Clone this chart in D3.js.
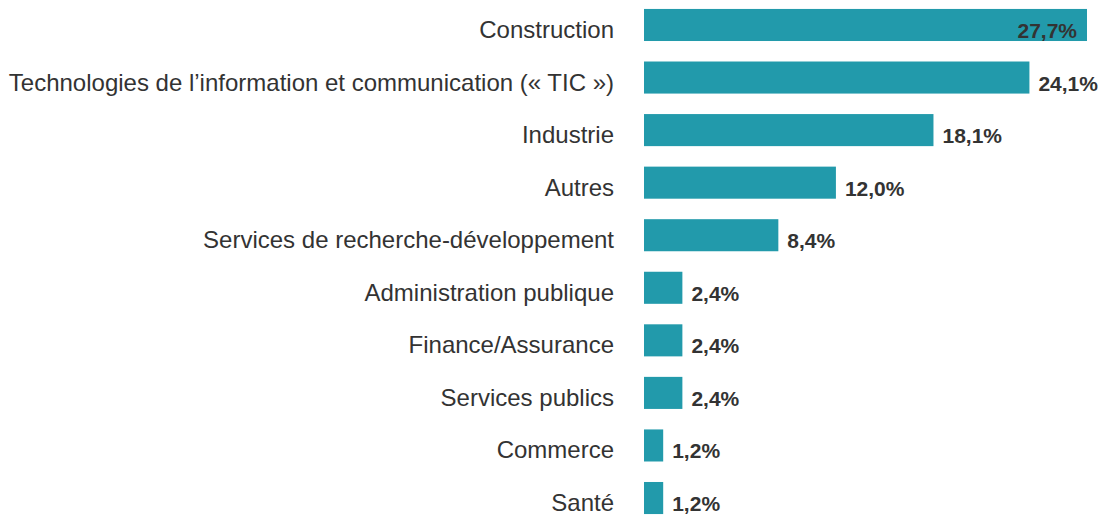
<!DOCTYPE html>
<html>
<head>
<meta charset="utf-8">
<script src="https://cdn.jsdelivr.net/npm/d3@7"></script>
<style>
  body { margin: 0; background: #fff; }
  text { font-family: "Liberation Sans", Arial, sans-serif; }
</style>
</head>
<body>
<script>
const categories = [
  "Construction",
  "Technologies de l\u2019information et communication (\u00ab TIC \u00bb)",
  "Industrie",
  "Autres",
  "Services de recherche-d\u00e9veloppement",
  "Administration publique",
  "Finance/Assurance",
  "Services publics",
  "Commerce",
  "Sant\u00e9"
];
const values = [27.7, 24.1, 18.1, 12.0, 8.4, 2.4, 2.4, 2.4, 1.2, 1.2];
const valueLabels = ["27,7%", "24,1%", "18,1%", "12,0%", "8,4%", "2,4%", "2,4%", "2,4%", "1,2%", "1,2%"];

const width = 1103, height = 515;
const barLeft = 644;

const svg = d3.select('body').append('svg')
    .attr('width', width)
    .attr('height', height);

const x = d3.scaleLinear().domain([0, 27.7]).range([barLeft, 1087]);
const y = d3.scaleBand().domain(categories).range([-1.3, 524.3]).paddingInner(0.39).paddingOuter(0.195);

const rows = svg.selectAll('.row')
    .data(categories)
    .enter().append('g')
    .attr('class', 'row');

rows.append('rect')
    .attr('x', x(0))
    .attr('y', d => y(d))
    .attr('width', (d, i) => x(values[i]) - x(0))
    .attr('height', y.bandwidth())
    .style('fill', '#229aab');

rows.append('text')
    .attr('x', 614)
    .attr('y', d => y(d) + y.bandwidth() / 2 + 13)
    .text(d => d)
    .style('text-anchor', 'end')
    .style('font-size', '24px')
    .style('fill', '#333');

rows.append('text')
    .attr('y', d => y(d) + y.bandwidth() / 2 + 13)
    .attr('x', (d, i) => x(values[i]) + 9)
    .text((d, i) => valueLabels[i])
    .style('font-size', '21px')
    .style('font-weight', 'bold')
    .style('fill', '#333')
    .each(function (d, i) {
        const w = this.getComputedTextLength();
        if (x(values[i]) + 9 + w > width) {
            d3.select(this).attr('x', x(values[i]) - 10).style('text-anchor', 'end');
        }
    });
</script>
</body>
</html>
